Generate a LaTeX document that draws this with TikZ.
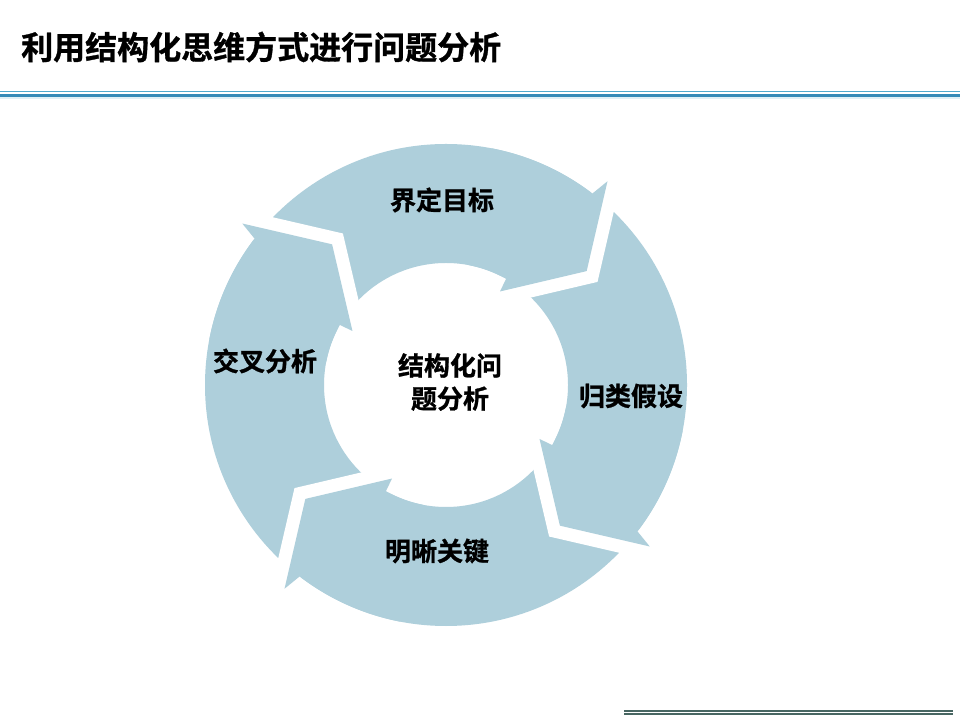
\documentclass[tikz,border=0pt]{standalone}
\usepackage{fontspec}
\setmainfont{Noto Sans CJK SC}[BoldFont={Noto Sans CJK SC Bold}, BoldFeatures={FakeBold=1}]
\usetikzlibrary{calc}
\definecolor{ringblue}{RGB}{174,207,219}
\definecolor{ruleblueA}{RGB}{78,168,204}
\definecolor{ruleblueB}{RGB}{52,138,183}
\definecolor{rulefade}{RGB}{222,240,246}
\definecolor{rulegray}{RGB}{72,102,98}
\begin{document}
\begin{tikzpicture}[x=1pt,y=1pt,
  lab/.style={font=\bfseries\fontsize{26}{33}\selectfont, inner sep=0pt, align=center, text=black},
  ttl/.style={font=\bfseries\fontsize{32}{38}\selectfont, inner sep=0pt, anchor=west, text=black},
  gapline/.style={draw=white, line width=26pt, line join=miter, line cap=butt}]
\fill[white] (0,0) rectangle (960,720);
\useasboundingbox (0,0) rectangle (960,720);
% title and rules
\node[ttl] (title) at (21,673) {利用结构化思维方式进行问题分析};
\draw[ruleblueA, line width=1.5pt] (0,628.5) -- (960,628.5);
\draw[ruleblueB, line width=3.5pt] (0,624.5) -- (960,624.5);
\draw[rulefade, line width=2pt] (0,621.5) -- (960,621.5);
\draw[rulegray, line width=1.3pt] (624,9) -- (953,9);
\draw[rulegray, line width=1.3pt] (624,6) -- (953,6);
% ring of four arrows
\begin{scope}[shift={(446,335)}]
  \fill[ringblue, even odd rule] (0,0) circle[radius=241pt] (0,0) circle[radius=122pt];
  \foreach \t in {39,129,219,309}{
    \draw[gapline] ({\t+12.6}:260) -- (\t:181) -- ({\t+21}:108);
  }
  \foreach \t in {39,129,219,309}{
    \fill[ringblue] ({\t+13.6}:241) -- ({\t+12.6}:260) -- (\t:181) -- ({\t+21}:108)
      -- ({\t+21.5}:122) arc[start angle={\t+21.5}, end angle={\t+40}, radius=122pt]
      -- ({\t+40}:241) arc[start angle={\t+40}, end angle={\t+13.6}, radius=241pt] -- cycle;
  }
\end{scope}
% labels
\node[lab] (top) at (442,520) {界定目标};
\node[lab] (left) at (265,359) {交叉分析};
\node[lab] (right) at (631,324) {归类假设};
\node[lab] (bottom) at (437,169) {明晰关键};
\node[lab] (center) at (450,338) {结构化问\\题分析};
\end{tikzpicture}
\end{document}
